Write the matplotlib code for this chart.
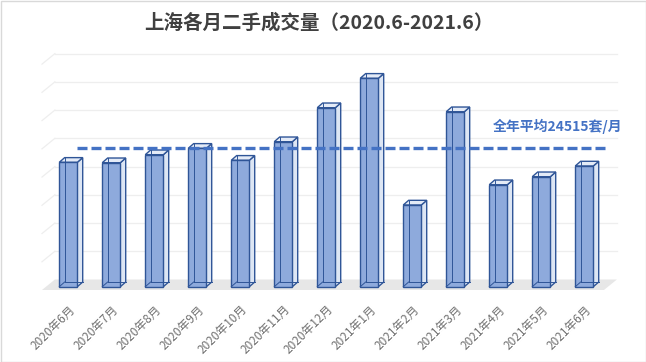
import matplotlib
matplotlib.use('Agg')
import matplotlib.pyplot as plt
from matplotlib.patches import Polygon, Rectangle

plt.rcParams['font.family'] = ['Noto Sans CJK SC', 'DejaVu Sans']

# datos
meses = ['2020年6月', '2020年7月', '2020年8月', '2020年9月', '2020年10月',
         '2020年11月', '2020年12月', '2021年1月', '2021年2月', '2021年3月',
         '2021年4月', '2021年5月', '2021年6月']
成交量 = [22030, 21960, 23380, 24510, 22390, 25680, 31700,
          36910, 14470, 30990, 18060, 19480, 21380]
promedio = 24515
etiqueta_promedio = '全年平均24515套/月'
titulo = '上海各月二手成交量（2020.6-2021.6）'

# pseudo 3D
ancho = 0.42
prof_dx, prof_dy = 0.125, 830
pared_dx, pared_dy = 0.30, 1860
piso_y0 = -584
paso_grid = 5000

fig = plt.figure(figsize=(6.46, 3.62), dpi=100)
ax = fig.add_axes([30 / 646, 62 / 362, 600 / 646, 260 / 362])
ax.set_xlim(-0.8907, 13.0628)
ax.set_ylim(-2355, 43691)

n = len(meses)
x_izq = -0.612
x_der = x_izq + 13.07

# piso
piso = Polygon([(x_izq, piso_y0), (x_der, piso_y0),
                (x_der + pared_dx, piso_y0 + pared_dy),
                (x_izq + pared_dx, piso_y0 + pared_dy)],
               closed=True, facecolor='#e7e7e7', edgecolor='none', zorder=1)
ax.add_patch(piso)

# lineas de la cuadricula (pared de fondo y lateral)
base = piso_y0 + pared_dy
for k in range(1, 9):
    yk = base + k * paso_grid
    ax.plot([x_izq + pared_dx, x_der + pared_dx], [yk, yk],
            color='#eeeeee', lw=0.9, zorder=0.5)
    ax.plot([x_izq, x_izq + pared_dx], [yk - pared_dy, yk],
            color='#eeeeee', lw=0.9, zorder=0.5)

borde = '#2f5597'
for i, v in enumerate(成交量):
    l = i - ancho / 2
    r = i + ancho / 2
    lado = Polygon([(r, 0), (r + prof_dx, prof_dy), (r + prof_dx, v + prof_dy), (r, v)],
                   closed=True, facecolor='#dde6f4', edgecolor=borde, lw=1, zorder=2)
    tapa = Polygon([(l, v), (l + prof_dx, v + prof_dy), (r + prof_dx, v + prof_dy), (r, v)],
                   closed=True, facecolor='#e4ebf7', edgecolor=borde, lw=1, zorder=2)
    ax.add_patch(lado)
    ax.add_patch(tapa)

ax.bar(range(n), 成交量, width=ancho, color='#8eaadc', edgecolor=borde,
       linewidth=1, zorder=3)

# aristas ocultas (la barra es semi transparente)
for i, v in enumerate(成交量):
    l = i - ancho / 2 + prof_dx
    r = i + ancho / 2 + prof_dx
    ax.plot([l, l], [prof_dy, v + prof_dy], color=borde, lw=0.7, zorder=4)
    ax.plot([l, r], [prof_dy, prof_dy], color=borde, lw=0.7, zorder=4)
    ax.plot([l - prof_dx, l], [0, prof_dy], color=borde, lw=0.7, zorder=4)

# linea del promedio
ax.plot([ancho / 2, 12.55], [promedio, promedio], color='#4472c4', lw=2.4,
        dashes=(3, 1.2), zorder=5)
ax.text(9.87, promedio + 3950, etiqueta_promedio, color='#4472c4',
        fontsize=10, fontweight='bold', ha='left', va='center', zorder=6)

ax.set_xticks(range(n))
ax.set_xticklabels(meses, rotation=45, ha='right', va='top',
                   rotation_mode='anchor', fontsize=8.5, color='#707070')
ax.tick_params(axis='x', length=0, pad=2)
ax.set_yticks([])
for s in ax.spines.values():
    s.set_visible(False)
ax.patch.set_alpha(0)

fig.text(319 / 646, 1 - 23 / 362, titulo, ha='center', va='center',
         fontsize=14, fontweight='bold', color='#404040')

fig.patches.append(Rectangle((0.5 / 646, 0.5 / 362), 645 / 646, 361 / 362,
                             transform=fig.transFigure, fill=False,
                             edgecolor='#d9d9d9', lw=1))

fig.savefig('out.png', dpi=100)
